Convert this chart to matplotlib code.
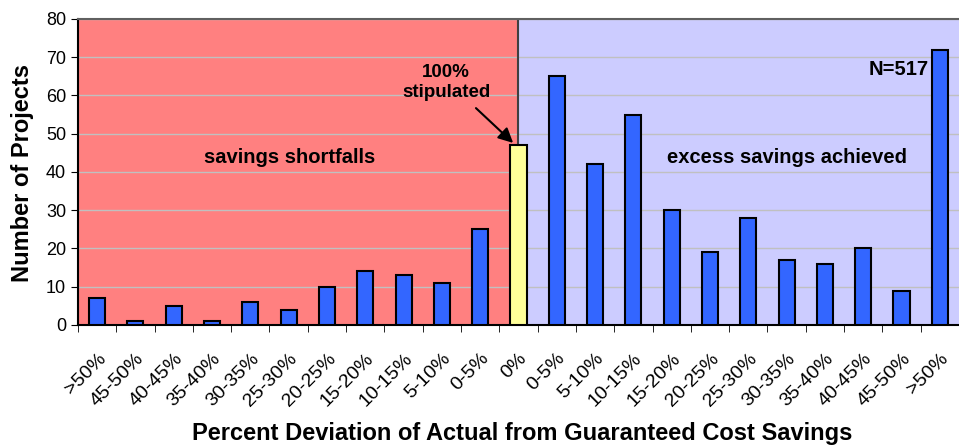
import matplotlib
matplotlib.use('Agg')
import matplotlib.pyplot as plt
import numpy as np

categories = ['>50%', '45-50%', '40-45%', '35-40%', '30-35%', '25-30%', '20-25%',
              '15-20%', '10-15%', '5-10%', '0-5%', '0%', '0-5%', '5-10%', '10-15%',
              '15-20%', '20-25%', '25-30%', '30-35%', '35-40%', '40-45%', '45-50%', '>50%']
projects = [7, 1, 5, 1, 6, 4, 10, 14, 13, 11, 25, 47, 65, 42, 55, 30, 19, 28, 17, 16, 20, 9, 72]
stipulated_idx = 11


def main():
    plt.rcParams['font.family'] = ['Liberation Sans', 'DejaVu Sans']
    fig = plt.figure(figsize=(9.59, 4.47), dpi=100)
    ax = fig.add_axes([0.0813, 0.273, 0.9187, 0.6845])

    x = np.arange(len(categories))
    n = len(categories)

    # shaded regions
    ax.axvspan(-0.5, stipulated_idx, color='#FF8080', zorder=0)
    ax.axvspan(stipulated_idx, n - 0.5, color='#CCCCFF', zorder=0)
    ax.axvline(stipulated_idx, color='#404040', lw=1.5, zorder=1)

    ax.set_yticks(range(0, 81, 10))
    ax.grid(axis='y', color='#C0C0C0', lw=1, zorder=1)
    ax.set_axisbelow(True)

    colors = ['#3366FF'] * n
    colors[stipulated_idx] = '#FFFF99'
    ax.bar(x, projects, width=0.42, color=colors, edgecolor='black', lw=1.5, zorder=3)

    ax.set_xlim(-0.5, n - 0.5)
    ax.set_ylim(0, 80)

    ax.set_xticks(x)
    ax.set_xticklabels(categories, rotation=45, ha='right', va='top',
                       rotation_mode='anchor', fontsize=14)
    ax.set_xticks(np.arange(-0.5, n, 1), minor=True)
    ax.tick_params(axis='x', which='major', length=0, pad=18)
    ax.tick_params(axis='x', which='minor', length=5, direction='out')
    ax.tick_params(axis='y', labelsize=13, length=5)

    for side in ['left', 'bottom']:
        ax.spines[side].set_color('black')
        ax.spines[side].set_linewidth(1.5)
    ax.spines['top'].set_color('#606060')
    ax.spines['top'].set_linewidth(1.5)
    ax.spines['right'].set_visible(False)

    ax.set_ylabel('Number of Projects', fontsize=17, fontweight='bold')
    ax.yaxis.set_label_coords(-0.05, 0.497)
    ax.set_xlabel('Percent Deviation of Actual from Guaranteed Cost Savings',
                  fontsize=17, fontweight='bold', va='baseline')
    ax.xaxis.set_label_coords(0.5045, -0.376)

    ax.text(5.02, 43.7, 'savings shortfalls', ha='center', va='center',
            fontsize=14.5, fontweight='bold')
    ax.text(18.02, 43.7, 'excess savings achieved', ha='center', va='center',
            fontsize=14.5, fontweight='bold')
    ax.text(21.7, 66.9, 'N=517', ha='right', va='center', fontsize=14.5, fontweight='bold')

    ax.text(9.11, 63.4, '100%\nstipulated', ha='center', va='center',
            fontsize=13.5, fontweight='bold', linespacing=1.3)
    ax.annotate('', xy=(10.86, 47.6), xytext=(9.89, 56.7),
                arrowprops=dict(arrowstyle='-|>', color='black', lw=1.5,
                                mutation_scale=22, shrinkA=0, shrinkB=0))

    plt.savefig('out.png')


if __name__ == '__main__':
    main()
